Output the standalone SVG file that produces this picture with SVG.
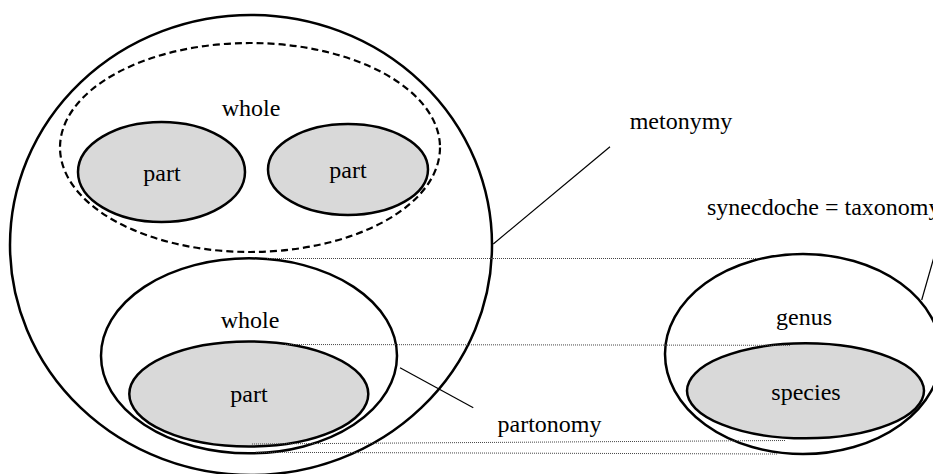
<svg xmlns="http://www.w3.org/2000/svg" width="933" height="474" viewBox="0 0 933 474">
  <style>
    .ring { fill: none; stroke: #000; stroke-width: 2.5; }
    .dash { fill: none; stroke: #000; stroke-width: 2.2; stroke-dasharray: 7 4; }
    .part { fill: #d9d9d9; stroke: #000; stroke-width: 2.5; }
    text { font-family: 'Liberation Serif', 'Times New Roman', 'DejaVu Serif', serif; font-size: 24px; fill: #000; }
    .mid { text-anchor: middle; }
    .lead { stroke: #000; stroke-width: 1.2; fill: none; }
    .dot { stroke: #444; stroke-width: 1; stroke-dasharray: 1 1; fill: none; }
  </style>
  <rect width="933" height="474" fill="#fff"/>

  <!-- metonymy: outer domain holding both part-whole configurations -->
  <g id="outer">
    <ellipse class="ring" cx="251" cy="245" rx="241" ry="230"/>
  </g>

  <g id="whole-top">
    <ellipse class="dash" cx="250" cy="147.5" rx="190" ry="104.5"/>
    <text class="mid" x="251" y="116">whole</text>
  </g>
  <g id="part-top-left">
    <ellipse class="part" cx="161.5" cy="172" rx="83.5" ry="50"/>
    <text class="mid" x="162" y="181">part</text>
  </g>
  <g id="part-top-right">
    <ellipse class="part" cx="348" cy="169.5" rx="80" ry="45.5"/>
    <text class="mid" x="348" y="178">part</text>
  </g>

  <g id="whole-bottom">
    <ellipse class="ring" cx="249" cy="355.8" rx="148" ry="97.5"/>
    <text class="mid" x="250" y="328">whole</text>
  </g>
  <g id="part-bottom">
    <ellipse class="part" cx="248.8" cy="394" rx="119.5" ry="52.5"/>
    <text class="mid" x="249" y="402">part</text>
  </g>

  <!-- taxonomy: genus containing species -->
  <g id="genus">
    <ellipse class="ring" cx="803" cy="354" rx="138" ry="100"/>
    <text class="mid" x="804" y="325">genus</text>
  </g>
  <g id="species">
    <ellipse class="part" cx="805.5" cy="390.8" rx="118.5" ry="47.5"/>
    <text class="mid" x="806" y="400">species</text>
  </g>

  <g id="connectors">
    <!-- correspondence guides -->
    <line class="dot" x1="267" y1="258.5" x2="758" y2="258.5"/>
    <line class="dot" x1="285" y1="344.5" x2="790" y2="345.3"/>
    <line class="dot" x1="252" y1="444" x2="785" y2="440.5"/>
    <line class="dot" x1="256" y1="452.3" x2="777" y2="454"/>
    <!-- label leaders -->
    <line class="lead" x1="493.3" y1="244" x2="610" y2="146.7"/>
    <line class="lead" x1="400" y1="367.7" x2="473.3" y2="407.7"/>
    <line class="lead" x1="921.7" y1="300" x2="940" y2="236"/>
  </g>

  <g id="labels">
    <text class="mid" x="681" y="129">metonymy</text>
    <text class="mid" x="549.5" y="431.5">partonomy</text>
    <text x="707" y="215">synecdoche = taxonomy</text>
  </g>
</svg>
